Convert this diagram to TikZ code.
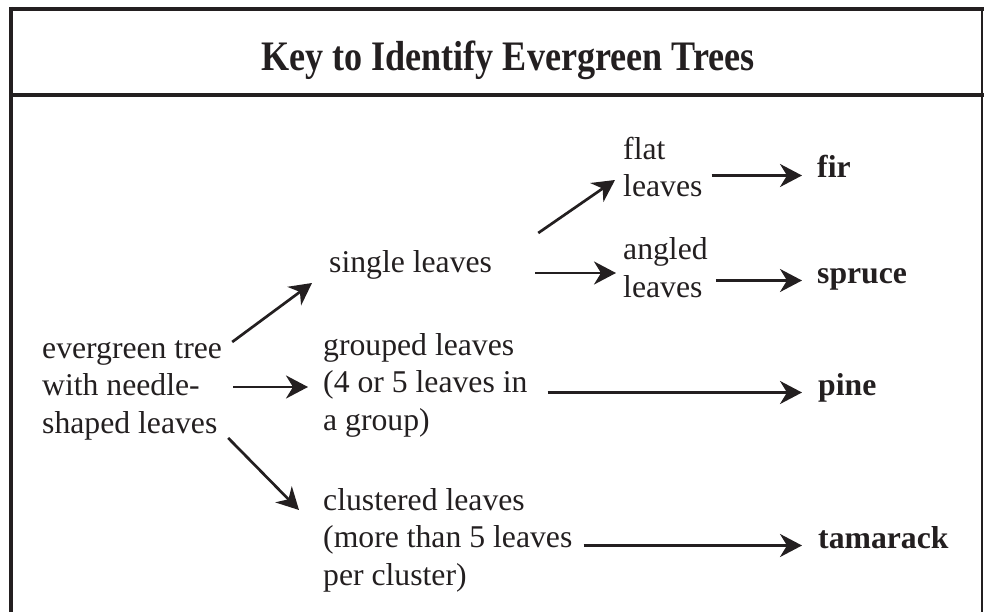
\documentclass[tikz,border=0pt]{standalone}
\usepackage{fontspec}
\setmainfont{Liberation Serif}
\newfontfamily\titlefont[FakeStretch=0.86]{Liberation Serif}
\usepackage{xcolor}
\usepackage{tikz}
\usetikzlibrary{arrows.meta,calc}
\definecolor{ink}{HTML}{231F20}
\tikzset{
  arr/.style={-{Stealth[length=22pt,width=23pt,inset=7pt]},line width=2.7pt,draw=ink},
  rule/.style={line width=4pt,draw=ink},
  txt/.style={anchor=base west,align=left,inner sep=0pt,text=ink,
    font=\fontsize{31.7}{37.5}\selectfont},
  res/.style={txt,font=\fontsize{31.7}{37.5}\selectfont\bfseries,
    text height=0.7em,text depth=0.2em},
}

\begin{document}
\begin{tikzpicture}[x=1pt,y=-1pt,
  ttl/.style={anchor=base,inner sep=0pt,text=ink,font=\fontsize{42}{46}\titlefont\bfseries}]
\useasboundingbox (0,0) rectangle (984,612);

% frame and title bar
\draw[rule] (9,9) -- (984,9);
\draw[rule] (11,7) -- (11,612);
\draw[rule] (11,95) -- (984,95);
\draw[line width=1.5pt,draw=ink] (982,9) -- (982,612);
\node[ttl] (title) at (508,71) {Key to Identify Evergreen Trees};

% key entries (placed at the baseline of their last line)
\node[txt] (tree) at (42,433) {evergreen tree\\with needle-\\shaped leaves};
\node[txt] (single) at (329,272) {single leaves};
\node[txt] (grouped) at (323,430) {grouped leaves\\(4 or 5 leaves in\\a group)};
\node[txt] (clustered) at (323,585) {clustered leaves\\(more than 5 leaves\\per cluster)};
\node[txt] (flat) at (623,197) {flat\\leaves};
\node[txt] (angled) at (623,297) {angled\\leaves};

% tree names
\node[res] (fir) at (817,178) {fir};
\node[res] (spruce) at (817,283) {spruce};
\node[res] (pine) at (818,395) {pine};
\node[res] (tamarack) at (818,548) {tamarack};

% first choice
\draw[arr] ($(tree.base east)+(10,-91)$) -- ($(single.base west)+(-17,11)$);
\draw[arr] ($(tree.base east)+(11,-46)$) -- ($(grouped.base west)+(-15,-43)$);
\draw[arr] ($(tree.base east)+(6,5)$) -- ($(clustered.base west)+(-24,-75)$);

% single leaves
\draw[arr] ($(single.base east)+(46,-39)$) -- ($(flat.base west)+(-8,-17)$);
\draw[arr] ($(single.base east)+(43,1)$) -- ($(single.base east -| angled.west)+(-7,1)$);

% to the tree names
\draw[arr] ($(flat.east |- fir.west)+(9,0)$) -- ($(fir.west)+(-15,0)$);
\draw[arr] ($(angled.east |- spruce.west)+(8,0)$) -- ($(spruce.west)+(-15,0)$);
\draw[arr] ($(grouped.east |- pine.west)+(20,0)$) -- ($(pine.west)+(-16,0)$);
\draw[arr] ($(clustered.east |- tamarack.west)+(11,0)$) -- ($(tamarack.west)+(-16,0)$);
\end{tikzpicture}
\end{document}
